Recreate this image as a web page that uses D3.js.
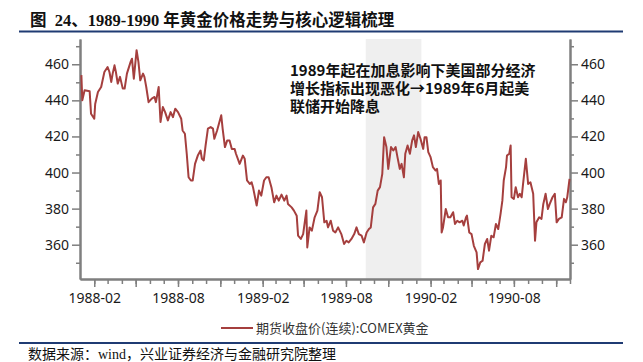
<!DOCTYPE html>
<html>
<head>
<meta charset="utf-8">
<script src="https://cdn.jsdelivr.net/npm/d3@7"></script>
<style>
    body{margin:0;background:#fff;}
    #canvas{width:643px;height:362px;}
    svg text{font-family:"Noto Sans","Noto Sans CJK SC",sans-serif;}
</style>
</head>
<body>
<div id="canvas"></div>
<script>
// COMEX gold continuous futures close
var dates = [
    "1988-01-04","1988-01-06","1988-01-11","1988-01-22","1988-01-25","1988-02-01","1988-02-03","1988-02-09","1988-02-16","1988-02-23",
    "1988-03-01","1988-03-05","1988-03-09","1988-03-12","1988-03-16","1988-03-19","1988-03-23","1988-03-28","1988-04-03","1988-04-07",
    "1988-04-12","1988-04-20","1988-04-23","1988-04-27","1988-05-03","1988-05-07","1988-05-11","1988-05-17","1988-05-20","1988-05-24",
    "1988-05-29","1988-06-05","1988-06-11","1988-06-14","1988-06-20","1988-06-24","1988-06-29","1988-07-04","1988-07-10","1988-07-16",
    "1988-07-21","1988-07-26","1988-08-01","1988-08-08","1988-08-11","1988-08-16","1988-08-20","1988-08-24","1988-08-29","1988-09-02",
    "1988-09-07","1988-09-13","1988-09-19","1988-09-22","1988-09-26","1988-09-30","1988-10-05","1988-10-11","1988-10-16","1988-10-19",
    "1988-10-25","1988-10-30","1988-11-03","1988-11-06","1988-11-11","1988-11-16","1988-11-21","1988-11-26","1988-12-02","1988-12-05",
    "1988-12-13","1988-12-20","1988-12-24","1988-12-29",
    "1989-01-04","1989-01-08","1989-01-11","1989-01-19","1989-01-24","1989-01-29","1989-02-04","1989-02-09","1989-02-14","1989-02-20",
    "1989-02-26","1989-03-03","1989-03-08","1989-03-14","1989-03-20","1989-03-25","1989-03-28","1989-04-05","1989-04-10","1989-04-16",
    "1989-04-19","1989-04-25","1989-04-30","1989-05-04","1989-05-07","1989-05-09","1989-05-14","1989-05-19","1989-05-25","1989-05-31",
    "1989-06-05","1989-06-10","1989-06-15","1989-06-20","1989-06-23","1989-06-29","1989-07-04","1989-07-09","1989-07-15","1989-07-22",
    "1989-07-28","1989-08-02","1989-08-07","1989-08-13","1989-08-19","1989-08-24","1989-08-29","1989-09-04","1989-09-09","1989-09-15",
    "1989-09-20","1989-09-24","1989-09-29","1989-10-04","1989-10-09","1989-10-14","1989-10-19","1989-10-23","1989-10-28","1989-11-01",
    "1989-11-07","1989-11-12","1989-11-17","1989-11-21","1989-11-26","1989-11-30","1989-12-05","1989-12-08","1989-12-13","1989-12-18",
    "1989-12-23","1989-12-27","1989-12-31",
    "1990-01-05","1990-01-10","1990-01-16","1990-01-19","1990-01-23","1990-01-27","1990-02-01","1990-02-06","1990-02-12","1990-02-15",
    "1990-02-19","1990-02-23","1990-02-25","1990-02-28","1990-03-06","1990-03-11","1990-03-16","1990-03-22","1990-03-26","1990-03-31",
    "1990-04-05","1990-04-11","1990-04-14","1990-04-19","1990-04-21","1990-04-26","1990-05-01","1990-05-06","1990-05-12","1990-05-15",
    "1990-05-20","1990-05-25","1990-05-30","1990-06-04","1990-06-08","1990-06-13","1990-06-18","1990-06-23","1990-06-28","1990-07-03",
    "1990-07-07","1990-07-10","1990-07-15","1990-07-17","1990-07-22","1990-07-25","1990-07-27","1990-08-01","1990-08-05","1990-08-10",
    "1990-08-14","1990-08-18","1990-08-21","1990-08-27","1990-09-01","1990-09-06","1990-09-12","1990-09-16","1990-09-19","1990-09-25",
    "1990-09-30","1990-10-04","1990-10-09","1990-10-14","1990-10-18","1990-10-24","1990-10-29","1990-11-02","1990-11-07","1990-11-13",
    "1990-11-18","1990-11-22","1990-11-25","1990-11-30"
];
var prices = [
    454,440,445.6,445,432.6,429.8,438,444.6,447.4,455.7,
    458.5,455.7,450.2,454.8,459.4,455.7,449.3,453,446.5,446.5,
    454.8,461.3,463.1,452,467.8,461.3,451.1,454.8,453,447.4,
    439,441,441.9,439,447.4,428,436.3,433.5,428.9,433.5,
    430.7,435.4,433.5,429.8,423.3,421.5,410.4,397.4,395.6,395.6,
    404.8,409.4,412.2,407.6,406.7,415,424.3,425.2,424.3,418.7,
    423.3,428,431.7,424.3,414.1,417.8,417.8,413.1,413.1,410.4,
    404.8,409.4,407.6,395.6,
    393.7,394.6,391.9,381.7,390,387.2,395.6,397.4,397.4,391.9,
    383.5,387.2,384.4,387.8,384.4,387.2,382.6,380.7,378.9,376.1,
    365,363.2,365.9,373.3,378.9,358.5,369.6,367.8,375.2,378.9,
    389.1,386.3,372.4,373.3,369.6,373.3,367.8,366.8,369.6,365.9,
    360.4,362.2,361.3,363.2,365.9,369.6,365.9,365,361.3,366.8,
    368.7,369.6,380.7,382.6,390,391.9,399.3,419.6,414.1,402,
    414.1,412.2,414.1,408.5,402,404.8,397.4,410.4,415,410.4,
    417.8,420.6,414.1,
    422.4,418.7,413.1,419.6,419.6,411.3,408.5,403,401.1,402,
    393.7,395.6,366.8,369.6,379.8,375.2,375.2,378,371.5,373.3,
    372.4,373.3,370.6,375.2,376.1,366.8,365.9,359.4,355.7,346.5,
    350.2,351.1,360.4,363.2,356.7,365,364.1,371.5,368.7,377,
    384.4,395.6,403,409.4,410.4,415,386.3,385.4,391.9,386.3,
    388.2,386.3,393.7,407.6,393.7,394.6,388.2,362.2,372.4,375.2,
    374.3,382.6,388.2,379.8,382.6,386.3,388.2,372.4,374.3,375.2,
    385.4,383.5,386.3,396.5
];

// shaded period and axis ticks
var shadeRange = ["1989-09-13","1990-01-12"];
var xDomain = ["1988-01-01","1990-12-01"];
var yDomain = [341, 474];
var yMajor = [360,380,400,420,440,460];
var yMinor = [350,370,390,410,430,450,470];

var title = "图  24、1989-1990 年黄金价格走势与核心逻辑梳理";
var note = ["1989年起在加息影响下美国部分经济","增长指标出现恶化→1989年6月起美","联储开始降息"];
var legendLabel = "期货收盘价(连续):COMEX黄金";
var source = "数据来源：wind，兴业证券经济与金融研究院整理";

var W = 643, H = 362;
var m = {t:39, r:73, b:83, l:80};
var parse = d3.utcParse("%Y-%m-%d");

var data = dates.map(function(d,i){ return {date:parse(d), v:prices[i]}; });

var svg = d3.select('#canvas').append('svg')
    .attr('width', W).attr('height', H);

var x = d3.scaleUtc()
    .domain(xDomain.map(parse))
    .range([m.l, W - m.r]);
var y = d3.scaleLinear()
    .domain(yDomain)
    .range([H - m.b, m.t]);

// title + rules
svg.append('text')
    .attr('x', 30).attr('y', 26)
    .style('font-family', '"Liberation Serif","Noto Sans CJK SC",serif')
    .style('font-weight', 'bold')
    .style('font-size', '16.5px')
    .style('white-space', 'pre')
    .attr('fill', '#111')
    .text(title);
svg.append('line')
    .attr('x1', 19).attr('x2', 623).attr('y1', 31.5).attr('y2', 31.5)
    .attr('stroke', '#1f3b73').attr('stroke-width', 2);
svg.append('line')
    .attr('x1', 19).attr('x2', 623).attr('y1', 343).attr('y2', 343)
    .attr('stroke', '#1f3b73').attr('stroke-width', 2);

// shaded period
svg.append('rect')
    .attr('x', x(parse(shadeRange[0])))
    .attr('width', x(parse(shadeRange[1])) - x(parse(shadeRange[0])))
    .attr('y', m.t)
    .attr('height', H - m.b - m.t)
    .attr('fill', '#efefef');

// axes
function styleAxis(g){
    g.selectAll('path,line').attr('stroke', '#7f7f7f');
    g.select('.domain').attr('stroke-width', 2);
    g.selectAll('.tick line').attr('stroke-width', 1.5);
    g.selectAll('text').attr('fill', '#1a1a1a').style('font-size', '14px');
}

var months = d3.utcMonth.range(parse("1988-02-01"), parse("1990-12-02"));
var quarters = months.filter(function(d){ return (d.getUTCMonth() - 1) % 3 === 0; });

svg.append('g')
    .attr('transform', 'translate(0,' + (H - m.b) + ')')
    .call(d3.axisBottom(x).tickValues(months).tickSize(5).tickSizeOuter(0).tickFormat(''))
    .call(styleAxis);
svg.append('g')
    .attr('transform', 'translate(0,' + (H - m.b) + ')')
    .call(d3.axisBottom(x).tickValues(quarters).tickSize(8).tickSizeOuter(0).tickPadding(6)
        .tickFormat(function(d){
            var mo = d.getUTCMonth();
            return (mo === 1 || mo === 7) ? d3.utcFormat("%Y-%m")(d) : '';
        }))
    .call(styleAxis);

[['left', m.l], ['right', W - m.r]].forEach(function(s){
    var ax = s[0] === 'left' ? d3.axisLeft : d3.axisRight;
    svg.append('g')
        .attr('transform', 'translate(' + s[1] + ',0)')
        .call(ax(y).tickValues(yMinor).tickSize(4).tickSizeOuter(0).tickFormat(''))
        .call(styleAxis);
    svg.append('g')
        .attr('transform', 'translate(' + s[1] + ',0)')
        .call(ax(y).tickValues(yMajor).tickSize(8).tickSizeOuter(0).tickPadding(3))
        .call(styleAxis);
});

// price line
var line = d3.line()
    .x(function(d){ return x(d.date); })
    .y(function(d){ return y(d.v); });
svg.append('path')
    .datum(data)
    .attr('d', line)
    .attr('fill', 'none')
    .attr('stroke', '#a53f3e')
    .attr('stroke-width', 2)
    .attr('stroke-linejoin', 'round');

// annotation (tight line spacing as in the reference)
svg.append('g').selectAll('text')
    .data(note).enter()
    .append('text')
    .attr('x', 290)
    .attr('y', function(d,i){ return 76 + i * 18; })
    .style('font-family', '"Noto Sans CJK SC",sans-serif')
    .style('font-weight', 'bold')
    .style('font-size', '15px')
    .attr('fill', '#111')
    .text(function(d){ return d; });

// legend
svg.append('line')
    .attr('x1', 221).attr('x2', 253).attr('y1', 328).attr('y2', 328)
    .attr('stroke', '#a53f3e').attr('stroke-width', 2);
svg.append('text')
    .attr('x', 256).attr('y', 332.5)
    .style('font-family', '"Noto Sans CJK SC",sans-serif')
    .style('font-size', '13px')
    .attr('fill', '#333')
    .text(legendLabel);

// source
svg.append('text')
    .attr('x', 28).attr('y', 359)
    .style('font-family', '"Liberation Serif","Noto Sans CJK SC",serif')
    .style('font-size', '14px')
    .attr('fill', '#111')
    .text(source);
</script>
</body>
</html>
